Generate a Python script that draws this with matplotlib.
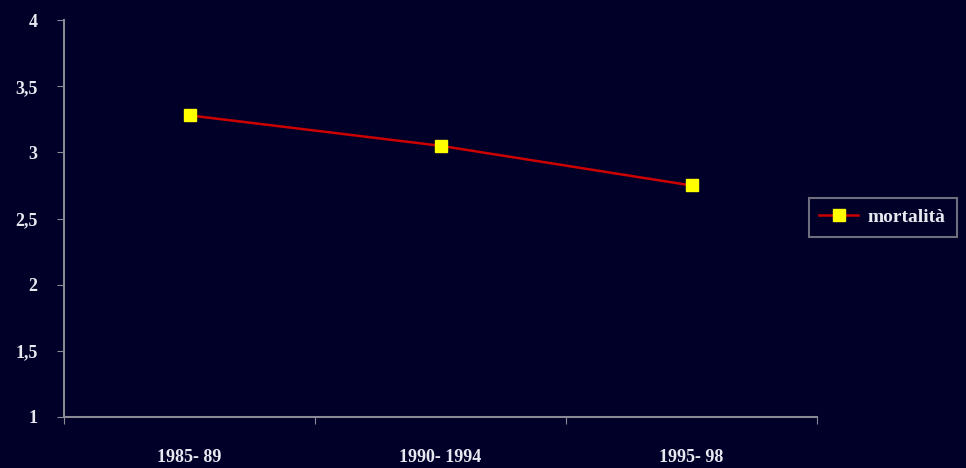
import matplotlib.pyplot as plt
import numpy as np

# data
periods = ["1985- 89", "1990- 1994", "1995- 98"]
mortalita = [3.28, 3.05, 2.75]
y_ticks = [1, 1.5, 2, 2.5, 3, 3.5, 4]
y_labels = ["1", "1,5", "2", "2,5", "3", "3,5", "4"]

bg = "#000028"
fg = "#e8e8f0"
axis_col = "#8a8a96"

plt.rcParams['font.family'] = ['Liberation Serif', 'DejaVu Serif']
plt.rcParams['font.weight'] = 'bold'

fig = plt.figure(figsize=(9.66, 4.68), dpi=100, facecolor=bg)
ax = fig.add_axes([0.0663, 0.109, 0.7795, 0.848], facecolor=bg)

x = np.arange(len(periods)) + 0.5
ax.plot(x, mortalita, color="#cc0000", linewidth=1.8, marker="s",
        markersize=8, markerfacecolor="#ffff00", markeredgecolor="#ffff00",
        label="mortalità")

ax.set_xlim(0, len(periods))
ax.set_ylim(1, 4)

# category boundaries as tick marks, labels at centres
ax.set_xticks(np.arange(len(periods) + 1))
ax.set_xticklabels([])
ax.set_xticks(x, minor=True)
ax.set_xticklabels(periods, minor=True)
ax.tick_params(axis='x', which='minor', length=0, pad=23, labelsize=13, labelcolor=fg)
ax.tick_params(axis='x', which='major', length=5, color=axis_col, direction='out')

ax.set_yticks(y_ticks)
ax.set_yticklabels(y_labels)
ax.tick_params(axis='y', length=5, color=axis_col, labelsize=13, labelcolor=fg, pad=14)

for s in ['top', 'right']:
    ax.spines[s].set_visible(False)
for s in ['left', 'bottom']:
    ax.spines[s].set_color(axis_col)
    ax.spines[s].set_linewidth(1.5)

leg = ax.legend(loc='center left', bbox_to_anchor=(0.976, 0.503), frameon=True,
                fontsize=14, handlelength=2.0, borderpad=0.55, handletextpad=0.5,
                facecolor=bg, edgecolor=axis_col, fancybox=False)
leg.get_frame().set_linewidth(1.5)
for t in leg.get_texts():
    t.set_color(fg)

fig.savefig("out.png", dpi=100, facecolor=bg)
